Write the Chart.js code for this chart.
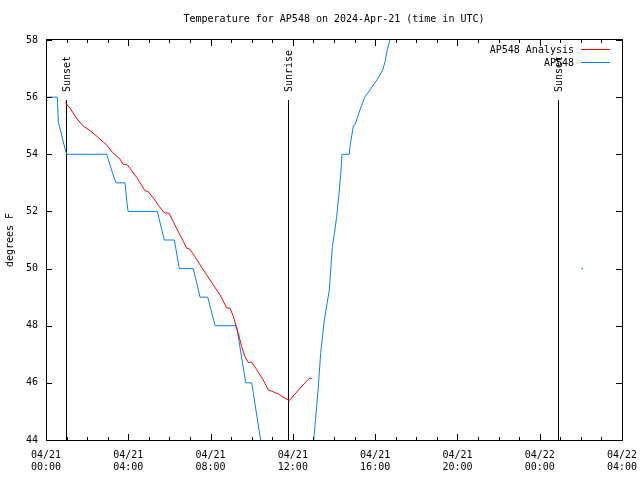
<!DOCTYPE html>
<html><head><meta charset="utf-8">
<script src="https://cdn.jsdelivr.net/npm/chart.js@4"></script>
<style>html,body{margin:0;padding:0;background:#fff}#c{display:block}</style>
</head><body>
<canvas id="c" width="640" height="480"></canvas>
<script>
const titleText = 'Temperature for AP548 on 2024-Apr-21 (time in UTC)';
const yAxisTitle = 'degrees F';
const seriesNames = ['AP548 Analysis', 'AP548'];
const seriesColors = ['#ff0000', '#0080ff'];
const xTickDates = ['04/21','04/21','04/21','04/21','04/21','04/21','04/22','04/22'];
const xTickTimes = ['00:00','04:00','08:00','12:00','16:00','20:00','00:00','04:00'];

// hours since 2024-04-21 00:00 UTC
const analysisHours = [0.94,1.17,1.49,1.81,2.14,2.54,2.79,2.95,3.24,3.60,3.73,3.95,4.08,4.41,4.81,4.97,5.25,5.46,5.74,5.99,6.19,6.43,6.67,6.84,6.97,7.24,7.49,7.81,8.13,8.46,8.78,8.95,9.11,9.24,9.35,9.51,9.67,9.83,10.00,10.24,10.56,10.81,10.97,11.29,11.62,11.83,12.02,12.35,12.64,12.80,12.92];
const analysisTemps = [55.82,55.61,55.26,54.99,54.83,54.59,54.42,54.33,54.06,53.83,53.66,53.63,53.51,53.19,52.73,52.69,52.44,52.22,51.96,51.93,51.64,51.29,50.96,50.71,50.69,50.42,50.13,49.78,49.43,49.08,48.63,48.61,48.32,47.97,47.73,47.27,46.92,46.72,46.72,46.47,46.10,45.75,45.71,45.61,45.46,45.38,45.54,45.81,46.04,46.16,46.16];

const obsHours = [0.00,0.55,0.60,0.94,1.01,2.95,3.11,3.24,3.40,3.84,3.92,3.99,5.41,5.75,6.24,6.48,7.16,7.49,7.86,8.22,9.26,9.71,10.00,10.65,11.80,12.80,13.24,13.35,13.53,13.77,13.92,14.02,14.13,14.26,14.33,14.39,14.74,14.78,14.94,15.02,15.26,15.51,15.75,16.08,16.37,16.48,16.59,16.72,17.20,20.00,26.07];
const obsTemps = [56,56,55.14,54.15,54,54,53.63,53.33,53,53,52.4,52,52,51,51,50,50,49,49,48,48,46,46,43,41.5,42.2,45.87,47.03,48.2,49.25,50.77,51.23,51.82,52.75,53.33,54,54,54.27,55,55.03,55.55,56.02,56.25,56.6,56.95,57.24,57.65,58,59.3,null,50];

const eventHours = [0.96, 11.75, 24.90];
const eventLabels = ['Sunset', 'Sunrise', 'Sunset'];

const FONT = 'DejaVu Sans Mono';

function toPoints(xs, ys) { return xs.map((x, i) => ({x: x, y: ys[i]})); }

const framePlugin = {
  id: 'frame',
  beforeDatasetsDraw(chart) {
    const ctx = chart.ctx, a = chart.chartArea, xs = chart.scales.x;
    ctx.save();
    ctx.strokeStyle = '#000'; ctx.lineWidth = 1;
    ctx.fillStyle = '#000';
    ctx.font = '10px "' + FONT + '"';
    eventHours.forEach((h, i) => {
      const x = Math.round(xs.getPixelForValue(h)) + 0.5;
      const yTop = a.bottom - 0.85 * (a.bottom - a.top);
      ctx.beginPath(); ctx.moveTo(x, a.bottom); ctx.lineTo(x, yTop); ctx.stroke();
      ctx.save();
      ctx.translate(x + 1, a.bottom - 0.87 * (a.bottom - a.top));
      ctx.rotate(-Math.PI / 2);
      ctx.textAlign = 'left'; ctx.textBaseline = 'middle';
      ctx.fillText(eventLabels[i], 0, 0);
      ctx.restore();
    });
    ctx.restore();
  },
  afterDraw(chart) {
    const ctx = chart.ctx, a = chart.chartArea, xs = chart.scales.x, ys = chart.scales.y;
    ctx.save();
    ctx.strokeStyle = '#000'; ctx.lineWidth = 1;
    ctx.strokeRect(Math.round(a.left) + 0.5, Math.round(a.top) - 0.5, Math.round(a.right - a.left), Math.round(a.bottom - a.top) + 1);
    ctx.beginPath();
    for (let h = xs.min; h <= xs.max; h += 1) {
      const x = Math.round(xs.getPixelForValue(h)) + 0.5;
      const len = (h % 4 === 0) ? 6 : 3;
      ctx.moveTo(x, a.bottom); ctx.lineTo(x, a.bottom - len);
      ctx.moveTo(x, a.top); ctx.lineTo(x, a.top + len);
    }
    ys.ticks.forEach(t => {
      const y = Math.round(ys.getPixelForValue(t.value)) + 0.5;
      ctx.moveTo(a.left, y); ctx.lineTo(a.left + 6, y);
      ctx.moveTo(a.right, y); ctx.lineTo(a.right - 6, y);
    });
    ctx.stroke();
    // legend
    ctx.font = '10px "' + FONT + '"';
    ctx.textAlign = 'right'; ctx.textBaseline = 'middle';
    chart.data.datasets.forEach((ds, i) => {
      const y = Math.round(a.top + 9 + i * 13) + 0.5;
      ctx.fillStyle = '#000';
      ctx.fillText(ds.label, a.right - 48, y + 0.5);
      ctx.strokeStyle = ds.borderColor;
      ctx.beginPath(); ctx.moveTo(a.right - 41, y); ctx.lineTo(a.right - 12, y); ctx.stroke();
    });
    ctx.restore();
  }
};

function isolatedRadius(ctx) {
  const d = ctx.dataset.data, i = ctx.dataIndex;
  const prevNull = i === 0 || d[i - 1].y === null;
  const nextNull = i === d.length - 1 || d[i + 1].y === null;
  return (prevNull && nextNull) ? 1 : 0;
}

new Chart(document.getElementById('c'), {
  type: 'line',
  data: {
    datasets: [
      {label: seriesNames[0], data: toPoints(analysisHours, analysisTemps), borderColor: seriesColors[0], backgroundColor: seriesColors[0], borderWidth: 1, pointRadius: 0, tension: 0, spanGaps: false},
      {label: seriesNames[1], data: toPoints(obsHours, obsTemps), borderColor: seriesColors[1], backgroundColor: seriesColors[1], borderWidth: 1, pointRadius: isolatedRadius, pointStyle: 'rect', pointBorderWidth: 0, tension: 0, spanGaps: false}
    ]
  },
  options: {
    responsive: false, animation: false, devicePixelRatio: 1,
    layout: {padding: {left: 0, right: 18, top: 0, bottom: 0}},
    plugins: {
      legend: {display: false},
      tooltip: {enabled: false},
      title: {display: true, text: titleText, color: '#000', fullSize: false,
        font: {family: FONT, size: 10, weight: 'normal', lineHeight: 1.2},
        padding: {top: 13, bottom: 15}}
    },
    scales: {
      x: {
        type: 'linear', min: 0, max: 28,
        afterFit: s => { s.height = 40; s.paddingLeft = 0; s.paddingRight = 0; },
        grid: {display: false, drawTicks: false},
        border: {display: false},
        ticks: {stepSize: 4, autoSkip: false, maxRotation: 0, padding: 9, color: '#000',
          font: {family: FONT, size: 10, lineHeight: 1.2},
          callback: (v) => { const i = Math.round(v / 4); return [xTickDates[i], xTickTimes[i]]; }}
      },
      y: {
        min: 44, max: 58,
        afterFit: s => { s.width = 46; s.paddingTop = 0; s.paddingBottom = 0; },
        grid: {display: false, drawTicks: false},
        border: {display: false},
        title: {display: true, text: yAxisTitle, color: '#000', font: {family: FONT, size: 10, lineHeight: 1.2}, padding: {top: 4, bottom: 0}},
        ticks: {stepSize: 2, padding: 8, color: '#000', font: {family: FONT, size: 10, lineHeight: 1.2}}
      }
    }
  },
  plugins: [framePlugin]
});
</script>
</body></html>
